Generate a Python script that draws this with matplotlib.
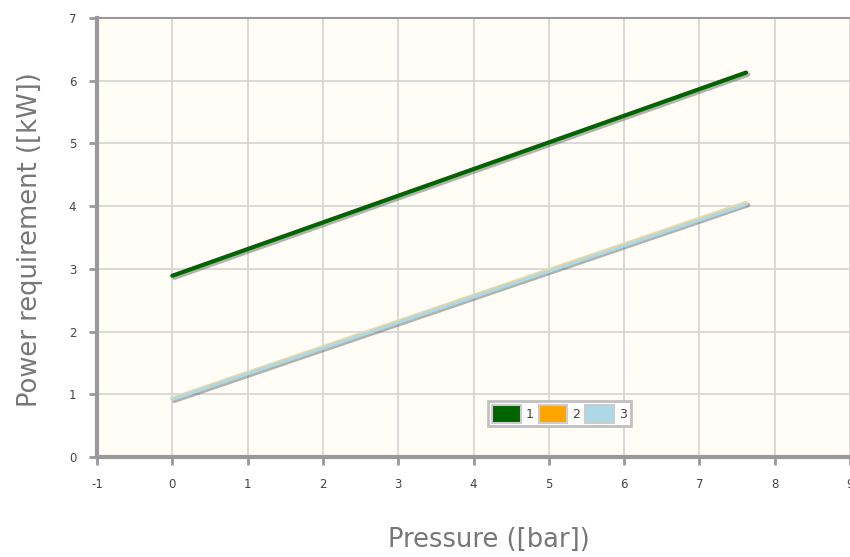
import matplotlib
matplotlib.use('Agg')
import matplotlib.pyplot as plt
import matplotlib.patheffects as pe
from matplotlib.patches import Patch

# data
pressure = [0, 7.62]
power_1 = [2.89, 6.13]
power_2 = [0.93, 4.05]
power_3 = [0.92, 4.03]
series_names = ['1', '2', '3']
colors = ['#006400', '#ffa500', '#add8e6']
x_ticks = list(range(-1, 10))
y_ticks = list(range(0, 8))

plt.rcParams['font.family'] = ['DejaVu Sans']
plt.rcParams['axes.unicode_minus'] = False
fig = plt.figure(figsize=(8.5, 5.57), dpi=100)
ax = fig.add_axes([97 / 850, 100 / 557, 753 / 850, 439 / 557])
ax.set_facecolor('#fffdf6')

shadow = [pe.SimpleLineShadow(offset=(1.5, -1.5), shadow_color='#555555', alpha=0.45), pe.Normal()]
ax.plot(pressure, power_1, color=colors[0], lw=3, solid_capstyle='round', path_effects=shadow, zorder=3)
ax.plot(pressure, power_2, color='#e6d9a6', lw=3.2, solid_capstyle='round', path_effects=shadow, zorder=3)
ax.plot(pressure, power_3, color=colors[2], lw=2.2, solid_capstyle='round', zorder=4)

ax.set_xlim(-1, 9)
ax.set_ylim(0, 7)
ax.set_xticks(x_ticks)
ax.set_yticks(y_ticks)
ax.grid(True, color='#d4d4d4', lw=1.2)
ax.set_axisbelow(True)

for s in ['left', 'bottom']:
    ax.spines[s].set_color('#999999')
    ax.spines[s].set_linewidth(3)
ax.spines['top'].set_color('#999999')
ax.spines['top'].set_linewidth(1.5)
ax.spines['right'].set_visible(False)
ax.tick_params(direction='out', length=6, width=2, color='#999999',
               labelsize=8.5, labelcolor='#444444', pad=9)

fig.text(489 / 850, 1 - 540 / 557, 'Pressure ([bar])', fontsize=18.5, color='#777777',
         ha='center', va='center')
fig.text(30 / 850, 1 - 240 / 557, 'Power requirement ([kW])', fontsize=18.5, color='#777777',
         ha='center', va='center', rotation=90)

handles = [Patch(facecolor=c, edgecolor='#cccccc', lw=1.5) for c in colors]
leg = ax.legend(handles, series_names, ncol=3, loc='center', bbox_to_anchor=(5.14, 0.69),
                bbox_transform=ax.transData, fontsize=9, frameon=True, fancybox=False,
                handlelength=2.3, handleheight=1.8, handletextpad=0.4, columnspacing=0.4,
                borderpad=0.3, labelcolor='#444444')
leg.get_frame().set_edgecolor('#c0c0c0')
leg.get_frame().set_linewidth(2)
leg.get_frame().set_facecolor('white')
leg.get_frame().set_alpha(1)

fig.savefig('out.png', dpi=100)
